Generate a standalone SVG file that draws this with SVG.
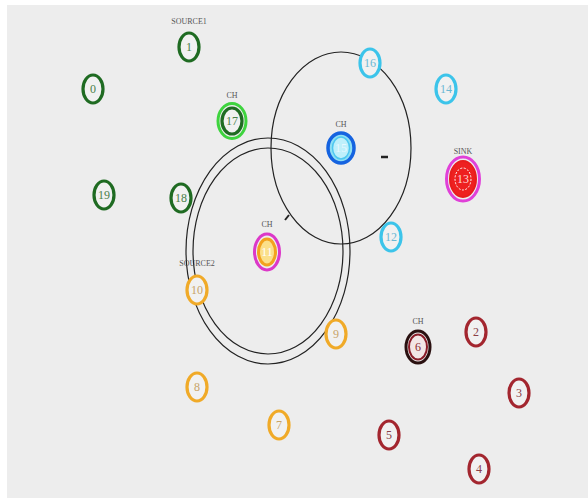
<svg xmlns="http://www.w3.org/2000/svg" width="588" height="500" viewBox="0 0 588 500">
<style>
.n{stroke-width:3.2;fill:#f1f1f1}
.t{font-family:"Liberation Serif",serif;font-size:12px;text-anchor:middle;dominant-baseline:central}
.lb{font-family:"Liberation Serif",serif;font-size:8px;text-anchor:middle;fill:#555}
.g{stroke:#1f6b22}.gt{fill:#4a804a}
.c{stroke:#3cc4ea}.ct{fill:#6ab8d4}
.o{stroke:#f0aa28}.ot{fill:#c8a468}
.r{stroke:#a3262f}.rt{fill:#8a4046}
.rng{fill:none;stroke:#222;stroke-width:1.2}
</style>
<rect x="0" y="0" width="588" height="500" fill="#ffffff"/>
<rect x="7" y="5" width="581" height="493" fill="#ededed"/>
<g id="ranges">
<ellipse class="rng" cx="341" cy="148" rx="70" ry="96"/>
<ellipse class="rng" cx="268" cy="251" rx="82" ry="113"/>
<ellipse class="rng" cx="268" cy="251" rx="75" ry="103"/>
<line x1="381" y1="157" x2="388" y2="157" stroke="#222" stroke-width="2.5"/>
<line x1="285" y1="220" x2="289" y2="215" stroke="#222" stroke-width="2"/>
</g>
<g id="node0"><ellipse class="n g" cx="93" cy="89" rx="10" ry="14"/><text class="t gt" x="93" y="89">0</text></g>
<g id="node1"><text class="lb" x="189" y="24">SOURCE1</text><ellipse class="n g" cx="189" cy="47" rx="10" ry="14"/><text class="t gt" x="189" y="47">1</text></g>
<g id="node17"><text class="lb" x="232" y="98">CH</text><ellipse cx="232" cy="121" rx="14" ry="17.5" fill="none" stroke="#3ed43e" stroke-width="3"/><ellipse class="n g" cx="232" cy="121" rx="10" ry="13"/><text class="t gt" x="232" y="121">17</text></g>
<g id="node19"><ellipse class="n g" cx="104" cy="195" rx="10" ry="14"/><text class="t gt" x="104" y="195">19</text></g>
<g id="node18"><ellipse class="n g" cx="181" cy="198" rx="10" ry="14"/><text class="t gt" x="181" y="198">18</text></g>
<g id="node16"><ellipse class="n c" cx="370" cy="63" rx="10" ry="14"/><text class="t ct" x="370" y="63">16</text></g>
<g id="node14"><ellipse class="n c" cx="446" cy="89" rx="10" ry="14"/><text class="t ct" x="446" y="89">14</text></g>
<g id="node12"><ellipse class="n c" cx="391" cy="237" rx="10" ry="14"/><text class="t ct" x="391" y="237">12</text></g>
<g id="node15"><text class="lb" x="341" y="127">CH</text><ellipse cx="341" cy="148" rx="13" ry="15" fill="#8fe0f4" stroke="#1563e0" stroke-width="3.5"/><ellipse cx="341" cy="148" rx="8.5" ry="11" fill="#bff0fb" stroke="#4fc8f0" stroke-width="1.5"/><text class="t" x="341" y="148" fill="#e8f8ff">15</text></g>
<g id="node13"><text class="lb" x="463" y="154">SINK</text><ellipse cx="463" cy="179" rx="16.5" ry="22" fill="none" stroke="#e040d8" stroke-width="3"/><ellipse cx="463" cy="179" rx="13" ry="18" fill="#ee2020" stroke="#e81c1c" stroke-width="2"/><ellipse cx="463" cy="179" rx="8" ry="11" fill="#ee2020" stroke="#ffffff" stroke-width="1" stroke-dasharray="2 1.5"/><text class="t" x="463" y="179" fill="#ffd8d8">13</text></g>
<g id="node11"><text class="lb" x="267" y="227">CH</text><ellipse cx="267" cy="252" rx="12.5" ry="18" fill="none" stroke="#dc38c8" stroke-width="3"/><ellipse cx="267" cy="252" rx="8.5" ry="13" fill="#fbe08a" stroke="#f3a21e" stroke-width="3"/><text class="t" x="267" y="252" fill="#ffffff">11</text></g>
<g id="node10"><text class="lb" x="197" y="266">SOURCE2</text><ellipse class="n o" cx="197" cy="290" rx="10" ry="14"/><text class="t ot" x="197" y="290">10</text></g>
<g id="node9"><ellipse class="n o" cx="336" cy="334" rx="10" ry="14"/><text class="t ot" x="336" y="334">9</text></g>
<g id="node8"><ellipse class="n o" cx="197" cy="387" rx="10" ry="14"/><text class="t ot" x="197" y="387">8</text></g>
<g id="node7"><ellipse class="n o" cx="279" cy="425" rx="10" ry="14"/><text class="t ot" x="279" y="425">7</text></g>
<g id="node6"><text class="lb" x="418" y="324">CH</text><ellipse cx="418" cy="347" rx="12" ry="16" fill="none" stroke="#2a1010" stroke-width="3"/><ellipse cx="418" cy="347" rx="9" ry="12.5" fill="#f2e6e6" stroke="#8a1c28" stroke-width="2"/><text class="t" x="418" y="347" fill="#8a2a30">6</text></g>
<g id="node2"><ellipse class="n r" cx="476" cy="332" rx="10" ry="14"/><text class="t rt" x="476" y="332">2</text></g>
<g id="node3"><ellipse class="n r" cx="519" cy="393" rx="10" ry="14"/><text class="t rt" x="519" y="393">3</text></g>
<g id="node5"><ellipse class="n r" cx="389" cy="435" rx="10" ry="14"/><text class="t rt" x="389" y="435">5</text></g>
<g id="node4"><ellipse class="n r" cx="479" cy="469" rx="10" ry="14"/><text class="t rt" x="479" y="469">4</text></g>
</svg>
